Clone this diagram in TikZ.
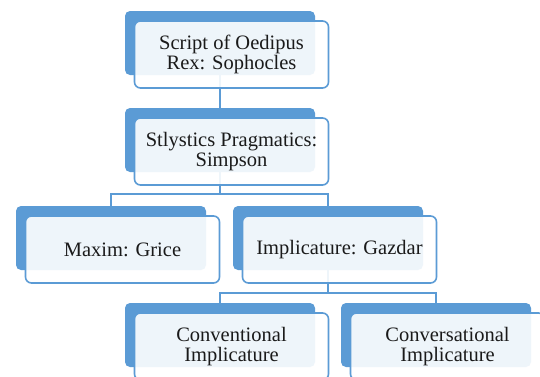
\documentclass[tikz,border=0pt]{standalone}
\usepackage{fontspec}
\setmainfont{Liberation Serif}
\usetikzlibrary{backgrounds}
\definecolor{accent}{HTML}{5B9BD5}
\definecolor{txt}{HTML}{1A1A1A}
\begin{document}
\begin{tikzpicture}[x=1pt,y=-1pt,
  backbox/.style={fill=accent, rounded corners=5pt, minimum width=190pt, minimum height=64pt, inner sep=0pt, draw=none},
  frontbox/.style={fill=white, fill opacity=0.9, text opacity=1, draw=accent, draw opacity=1, line width=1.6pt, rounded corners=6pt,
    minimum width=194pt, minimum height=67pt, inner sep=0pt, align=center, text=txt,
    font=\fontsize{20.5}{20.5}\selectfont},
  conn/.style={draw=accent, line width=1.5pt}]
\clip (0,0) rectangle (540,376);
% back boxes
\node[backbox] (b1) at (220,43) {};
\node[backbox] (b2) at (220,140) {};
\node[backbox] (b3a) at (111,238) {};
\node[backbox] (b3b) at (328,238) {};
\node[backbox] (b4a) at (220,335) {};
\node[backbox] (b4b) at (436,335) {};
% front boxes
\node[frontbox] (f1) at (231.5,54.5) {Script of Oedipus\\Rex: Sophocles};
\node[frontbox] (f2) at (231.5,151.5) {Stlystics Pragmatics:\\Simpson};
\node[frontbox] (f3a) at (122.5,249.5) {Maxim: Grice};
\node[frontbox] (f3b) at (339.5,249.5) {Implicature: Gazdar};
\node[frontbox] (f4a) at (231.5,346.5) {Conventional\\Implicature};
\node[frontbox] (f4b) at (447.5,346.5) {Conversational\\Implicature};
% connectors
\coordinate (j1) at (220,194);
\coordinate (j2) at (328,293);
\begin{scope}[on background layer]
\fill[white] (0,0) rectangle (540,376);
\draw[conn] (b1.south) -- (b2.north);
\draw[conn] (b2.south) -- (j1) -| (b3a.north);
\draw[conn] (j1) -| (b3b.north);
\draw[conn] (b3b.south) -- (j2) -| (b4a.north);
\draw[conn] (j2) -| (b4b.north);
\end{scope}
\end{tikzpicture}
\end{document}
